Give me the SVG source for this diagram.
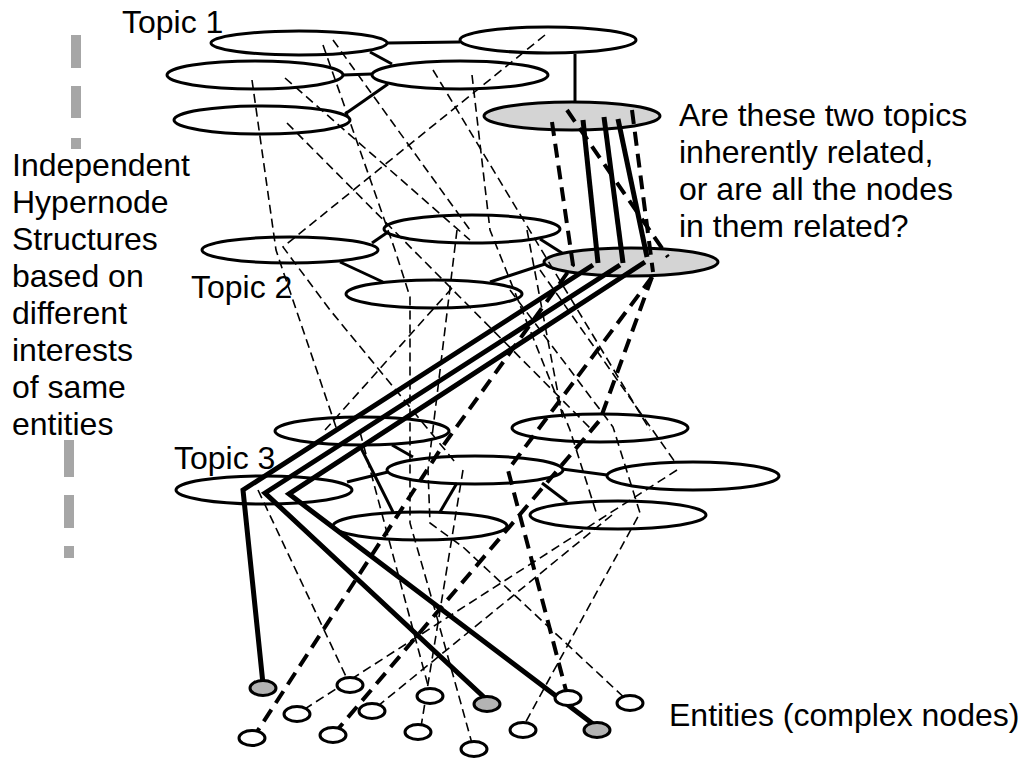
<svg xmlns="http://www.w3.org/2000/svg" width="1024" height="758" viewBox="0 0 1024 758">
  <style>
    .lbl { font-family: "Liberation Sans", Arial, sans-serif; font-size: 32px; fill: #000; }
    .topic { fill: #fff; stroke: #000; stroke-width: 3; }
    .topic.hl { fill: #d4d4d4; }
    .ent { fill: #fff; stroke: #000; stroke-width: 3; }
    .ent.hl { fill: #b3b3b3; }
    .edge { stroke: #000; stroke-width: 3; fill: none; }
    .thin { stroke: #000; stroke-width: 1.6; stroke-dasharray: 9 5; fill: none; }
    .bold { stroke: #000; stroke-width: 4; stroke-dasharray: 14 8; fill: none; }
    .path { stroke: #000; stroke-width: 5; fill: none; }
    .bar { fill: #a6a6a6; }
  </style>

  <rect width="1024" height="758" fill="#fff"/>

  <!-- gray separator bars on the left -->
  <g id="separator">
    <rect class="bar" x="71" y="35" width="10" height="33"/>
    <rect class="bar" x="71" y="86" width="10" height="32"/>
    <rect class="bar" x="71" y="138" width="10" height="11"/>
    <rect class="bar" x="64" y="440" width="10" height="37"/>
    <rect class="bar" x="64" y="495" width="10" height="33"/>
    <rect class="bar" x="64" y="546" width="10" height="12"/>
  </g>

  <!-- labels -->
  <g id="labels">
    <text class="lbl" x="122" y="33">Topic 1</text>
    <text class="lbl" x="191" y="298">Topic 2</text>
    <text class="lbl" x="174" y="469">Topic 3</text>
    <text class="lbl" x="12" y="176">Independent</text>
    <text class="lbl" x="12" y="213">Hypernode</text>
    <text class="lbl" x="12" y="250">Structures</text>
    <text class="lbl" x="12" y="287">based on</text>
    <text class="lbl" x="12" y="324">different</text>
    <text class="lbl" x="12" y="361">interests</text>
    <text class="lbl" x="12" y="398">of same</text>
    <text class="lbl" x="12" y="435">entities</text>
    <text class="lbl" x="679" y="126">Are these two topics</text>
    <text class="lbl" x="679" y="163">inherently related,</text>
    <text class="lbl" x="679" y="200">or are all the nodes</text>
    <text class="lbl" x="679" y="237">in them related?</text>
    <text class="lbl" x="669" y="726">Entities (complex nodes)</text>
  </g>

  <!-- topic 1 hypernodes -->
  <g id="t1a"><ellipse class="topic" cx="299" cy="43" rx="88" ry="12"/></g>
  <g id="t1b"><ellipse class="topic" cx="548" cy="40" rx="88" ry="13"/></g>
  <g id="t1c"><ellipse class="topic" cx="255" cy="75" rx="88" ry="14"/></g>
  <g id="t1d"><ellipse class="topic" cx="460" cy="75" rx="88" ry="14"/></g>
  <g id="t1e"><ellipse class="topic" cx="262" cy="120" rx="88" ry="14"/></g>
  <g id="t1f"><ellipse class="topic hl" cx="572" cy="116" rx="88" ry="14"/></g>

  <!-- topic 2 hypernodes -->
  <g id="t2a"><ellipse class="topic" cx="290" cy="250" rx="88" ry="13"/></g>
  <g id="t2b"><ellipse class="topic" cx="472" cy="229" rx="88" ry="14"/></g>
  <g id="t2c"><ellipse class="topic" cx="434" cy="294" rx="88" ry="14"/></g>
  <g id="t2d"><ellipse class="topic hl" cx="631" cy="262" rx="87" ry="14"/></g>

  <!-- topic 3 hypernodes -->
  <g id="t3a"><ellipse class="topic" cx="362" cy="431" rx="87" ry="14"/></g>
  <g id="t3b"><ellipse class="topic" cx="600" cy="428" rx="88" ry="14"/></g>
  <g id="t3c"><ellipse class="topic" cx="475" cy="470" rx="88" ry="14"/></g>
  <g id="t3d"><ellipse class="topic" cx="693" cy="476" rx="86" ry="14"/></g>
  <g id="t3e"><ellipse class="topic" cx="264" cy="490" rx="88" ry="14"/></g>
  <g id="t3f"><ellipse class="topic" cx="420" cy="526" rx="87" ry="14"/></g>
  <g id="t3g"><ellipse class="topic" cx="618" cy="515" rx="88" ry="14"/></g>

  <!-- connectors -->
  <g id="connectors">
    <!-- links inside each topic -->
    <line class="edge" x1="387" y1="43" x2="460" y2="42"/>
    <line class="edge" x1="370" y1="52" x2="392" y2="64"/>
    <line class="edge" x1="343" y1="75" x2="372" y2="74"/>
    <line class="edge" x1="345" y1="114" x2="388" y2="84"/>
    <line class="edge" x1="575" y1="54" x2="575" y2="102"/>
    <line class="edge" x1="372" y1="243" x2="388" y2="232"/>
    <line class="edge" x1="340" y1="262" x2="383" y2="282"/>
    <line class="edge" x1="490" y1="282" x2="545" y2="264"/>
    <line class="edge" x1="540" y1="239" x2="562" y2="253"/>
    <line class="edge" x1="347" y1="482" x2="388" y2="472"/>
    <line class="edge" x1="392" y1="445" x2="413" y2="457"/>
    <line class="edge" x1="360" y1="446" x2="393" y2="512"/>
    <line class="edge" x1="457" y1="483" x2="440" y2="512"/>
    <line class="edge" x1="562" y1="469" x2="607" y2="475"/>
    <line class="edge" x1="542" y1="483" x2="567" y2="502"/>

    <!-- membership paths of entities -->
    <polyline class="thin" points="252,80 276,250 282,268 337,430"/>
    <polyline class="thin" points="285,78 470,240"/>
    <polyline class="thin" points="287,123 590,428"/>
    <polyline class="thin" points="323,45 395,250 410,297 410,523 433,603 473,747"/>
    <polyline class="thin" points="333,40 470,230"/>
    <polyline class="thin" points="545,35 283,247 330,310 455,462"/>
    <polyline class="thin" points="433,70 650,430"/>
    <polyline class="thin" points="472,75 490,230 570,430 597,515"/>
    <polyline class="thin" points="452,288 325,430"/>
    <polyline class="thin" points="457,230 428,470 430,523 463,547 630,703"/>
    <polyline class="thin" points="258,490 350,685"/>
    <polyline class="thin" points="360,432 430,693"/>
    <polyline class="thin" points="463,470 420,733"/>
    <polyline class="thin" points="677,470 297,714"/>
    <polyline class="thin" points="612,515 373,710"/>
    <polyline class="thin" points="510,290 613,427 640,513 523,727"/>
    <polyline class="thin" points="540,270 675,462"/>
    <polyline class="thin" points="527,230 563,420"/>

    <!-- highlighted dashed paths -->
    <polyline class="bold" points="552,122 573,265 440,450 253,738"/>
    <polyline class="bold" points="567,110 668,257"/>
    <polyline class="bold" points="632,110 653,272"/>
    <polyline class="bold" points="652,277 508,470 568,698"/>
    <polyline class="bold" points="652,277 600,420 333,735"/>

    <!-- highlighted solid paths -->
    <line class="path" x1="583" y1="120" x2="598" y2="263"/>
    <line class="path" x1="604" y1="117" x2="623" y2="263"/>
    <line class="path" x1="618" y1="119" x2="647" y2="257"/>
    <polyline class="path" points="593,265 243,490 263,684"/>
    <polyline class="path" points="620,265 265,493 487,700"/>
    <polyline class="path" points="645,262 289,494 597,727"/>
  </g>

  <!-- entities -->
  <g id="e1"><ellipse class="ent hl" cx="263" cy="688" rx="13" ry="7.5"/></g>
  <g id="e2"><ellipse class="ent" cx="350" cy="685" rx="13" ry="7.5"/></g>
  <g id="e3"><ellipse class="ent" cx="430" cy="696" rx="13" ry="7.5"/></g>
  <g id="e4"><ellipse class="ent hl" cx="487" cy="704" rx="13" ry="7.5"/></g>
  <g id="e5"><ellipse class="ent" cx="297" cy="714" rx="13" ry="7.5"/></g>
  <g id="e6"><ellipse class="ent" cx="372" cy="711" rx="13" ry="7.5"/></g>
  <g id="e7"><ellipse class="ent" cx="252" cy="738" rx="13" ry="7.5"/></g>
  <g id="e8"><ellipse class="ent" cx="333" cy="735" rx="13" ry="7.5"/></g>
  <g id="e9"><ellipse class="ent" cx="418" cy="732" rx="13" ry="7.5"/></g>
  <g id="e10"><ellipse class="ent" cx="474" cy="749" rx="13" ry="7.5"/></g>
  <g id="e11"><ellipse class="ent" cx="568" cy="698" rx="13" ry="7.5"/></g>
  <g id="e12"><ellipse class="ent" cx="630" cy="703" rx="13" ry="7.5"/></g>
  <g id="e13"><ellipse class="ent" cx="523" cy="730" rx="13" ry="7.5"/></g>
  <g id="e14"><ellipse class="ent hl" cx="597" cy="730" rx="13" ry="7.5"/></g>
</svg>
